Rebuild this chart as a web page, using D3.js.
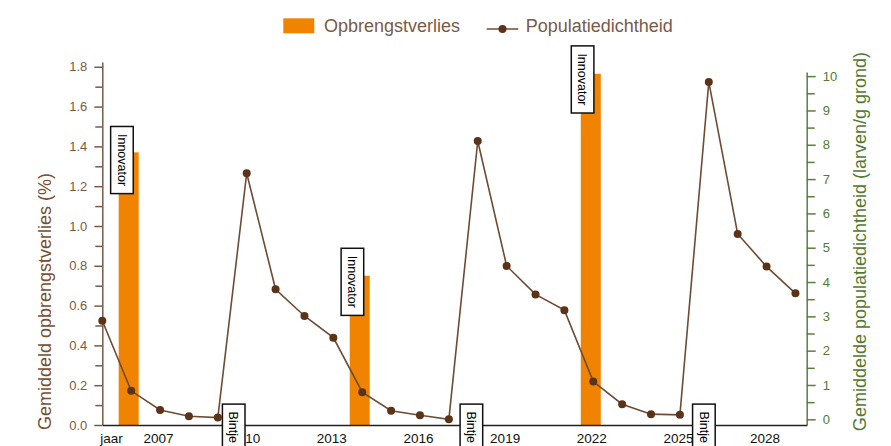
<!DOCTYPE html>
<html>
<head>
<meta charset="utf-8">
<script src="https://cdn.jsdelivr.net/npm/d3@7"></script>
<style>
  html, body { margin: 0; padding: 0; background: #fff; }
  svg { display: block; font-family: "Liberation Sans", Arial, Helvetica, sans-serif; }
</style>
</head>
<body>
<svg id="chart" width="891" height="446"></svg>
<script>
// ---------- data ----------
const years = [2005, 2006, 2007, 2008, 2009, 2010, 2011, 2012, 2013, 2014, 2015, 2016,
               2017, 2018, 2019, 2020, 2021, 2022, 2023, 2024, 2025, 2026, 2027, 2028, 2029];
const density = [2.87, 0.83, 0.27, 0.09, 0.05, 7.17, 3.79, 3.01, 2.38, 0.79, 0.25, 0.12,
                 0.0, 8.11, 4.47, 3.64, 3.18, 1.10, 0.44, 0.15, 0.13, 9.83, 5.40, 4.45, 3.67];
const barYears = [2006, 2014, 2022];
const yieldLoss = [1.37, 0.75, 1.765];
const annotLabels = ["Innovator", "Bintje", "Innovator", "Bintje", "Innovator", "Bintje"];
const annotYears = [2005.68, 2009.55, 2013.66, 2017.78, 2021.63, 2025.83];
const annotLevels = [1.50, 0.105, 0.888, 0.105, 1.905, 0.105];
const xTickValues = [2007, 2010, 2013, 2016, 2019, 2022, 2025, 2028];
const xFirstLabel = "jaar";
const leftTicks = [0, 0.2, 0.4, 0.6, 0.8, 1.0, 1.2, 1.4, 1.6, 1.8];
const leftMinorTicks = [0.1, 0.3, 0.5, 0.7, 0.9, 1.1, 1.3, 1.5, 1.7];
const rightTicks = [0, 1, 2, 3, 4, 5, 6, 7, 8, 9, 10];
const rightMinorTicks = [0.5, 1.5, 2.5, 3.5, 4.5, 5.5, 6.5, 7.5, 8.5, 9.5];
const legendLabels = ["Opbrengstverlies", "Populatiedichtheid"];
const leftTitle = "Gemiddeld opbrengstverlies (%)";
const rightTitle = "Gemiddelde populatiedichtheid (larven/g grond)";

// ---------- styles ----------
const ORANGE = "#f08300";
const LINE = "#6e4b35";
const DOT = "#5a3318";
const BROWN_AXIS = "#7a5a45";
const BROWN_TEXT = "#7a5a48";
const TITLE_BROWN = "#7a4e30";
const GREEN = "#5b7f3c";
const GREEN_TEXT = "#537a35";

const svg = d3.select("#chart");

// ---------- scales ----------
const x = d3.scaleLinear().domain([2005, 2029.39]).range([102.3, 806.7]);
const yL = d3.scaleLinear().domain([0, 1.824]).range([425, 62]);
const yR = d3.scaleLinear().domain([-0.166, 10.12]).range([425, 72]);

// ---------- bars ----------
const barW = 20;
svg.append("g").selectAll("rect")
  .data(barYears.map((yr, i) => ({yr, v: yieldLoss[i]})))
  .join("rect")
  .attr("x", d => x(d.yr) - barW / 2 - 2.5)
  .attr("y", d => yL(d.v))
  .attr("width", barW)
  .attr("height", d => yL(0) - yL(d.v))
  .attr("fill", ORANGE);

// ---------- left axis ----------
const gL = svg.append("g").attr("transform", `translate(${x(2005)},0)`);
gL.call(d3.axisLeft(yL).tickValues(leftTicks).tickFormat(d3.format(".1f")).tickSize(8).tickSizeOuter(0).tickPadding(7));
gL.append("g").call(d3.axisLeft(yL).tickValues(leftMinorTicks).tickFormat("").tickSize(7).tickSizeOuter(0))
  .select(".domain").remove();
gL.selectAll(".domain, line").attr("stroke", BROWN_AXIS).attr("stroke-width", 1.5);
gL.selectAll("text").attr("fill", BROWN_TEXT).style("font-size", "13px");

// ---------- right axis ----------
const gR = svg.append("g").attr("transform", `translate(${x(2029.39)},0)`);
gR.call(d3.axisRight(yR).tickValues(rightTicks).tickFormat(d3.format("d")).tickSize(9).tickSizeOuter(0).tickPadding(7));
gR.append("g").call(d3.axisRight(yR).tickValues(rightMinorTicks).tickFormat("").tickSize(8).tickSizeOuter(0))
  .select(".domain").remove();
gR.selectAll(".domain, line").attr("stroke", GREEN).attr("stroke-width", 1.5);
gR.selectAll("text").attr("fill", GREEN_TEXT).style("font-size", "13px");

// ---------- x axis ----------
const gX = svg.append("g").attr("transform", `translate(0,${yL(0)})`);
gX.call(d3.axisBottom(x).tickValues(xTickValues).tickFormat(d3.format("d")).tickSize(0).tickPadding(8.5));
gX.select(".domain").attr("stroke", "#222").attr("stroke-width", 1.5);
gX.selectAll("text").attr("fill", "#111").attr("dx", "-2").style("font-size", "13.5px");
gX.append("text")
  .attr("x", x(2005) - 2).attr("y", 8.5).attr("dy", "0.71em")
  .attr("text-anchor", "start").attr("fill", "#111").style("font-size", "13.5px")
  .text(xFirstLabel);

// ---------- line + dots ----------
const pts = years.map((yr, i) => ({yr, v: density[i]}));
svg.append("path")
  .datum(pts)
  .attr("fill", "none")
  .attr("stroke", LINE)
  .attr("stroke-width", 1.6)
  .attr("d", d3.line().x(d => x(d.yr)).y(d => yR(d.v)));
svg.append("g").selectAll("circle")
  .data(pts)
  .join("circle")
  .attr("cx", d => x(d.yr))
  .attr("cy", d => yR(d.v))
  .attr("r", 4)
  .attr("fill", DOT);

// ---------- annotations ----------
const annG = svg.append("g");
annotLabels.forEach((lab, i) => {
  const g = annG.append("g")
    .attr("transform", `translate(${x(annotYears[i])},${yL(annotLevels[i])}) rotate(90)`);
  const rect = g.append("rect");
  const t = g.append("text")
    .attr("x", 7.5).attr("y", 0).attr("dy", "0.35em")
    .attr("fill", "#000").style("font-size", "12.5px")
    .text(lab);
  const len = t.node().getComputedTextLength();
  rect.attr("x", 0).attr("y", -11.3).attr("width", len + 15).attr("height", 22.6)
    .attr("fill", "#fff").attr("stroke", "#111").attr("stroke-width", 1.5);
});

// ---------- axis titles ----------
svg.append("text")
  .attr("transform", `translate(51,301.5) rotate(-90)`)
  .attr("text-anchor", "middle")
  .attr("fill", TITLE_BROWN)
  .style("font-size", "18px")
  .text(leftTitle);
svg.append("text")
  .attr("transform", `translate(866,241.5) rotate(-90)`)
  .attr("text-anchor", "middle")
  .attr("fill", GREEN_TEXT)
  .style("font-size", "18px")
  .text(rightTitle);

// ---------- legend ----------
const leg = svg.append("g");
leg.append("rect").attr("x", 283.3).attr("y", 18.3).attr("width", 31).attr("height", 15).attr("fill", ORANGE);
leg.append("text").attr("x", 324).attr("y", 32).attr("fill", BROWN_TEXT).style("font-size", "18px").text(legendLabels[0]);
leg.append("line").attr("x1", 486.7).attr("x2", 518.3).attr("y1", 29).attr("y2", 29)
  .attr("stroke", LINE).attr("stroke-width", 1.6);
leg.append("circle").attr("cx", 502.5).attr("cy", 29).attr("r", 4).attr("fill", DOT);
leg.append("text").attr("x", 525.7).attr("y", 32).attr("fill", BROWN_TEXT).style("font-size", "18px").text(legendLabels[1]);
</script>
</body>
</html>
